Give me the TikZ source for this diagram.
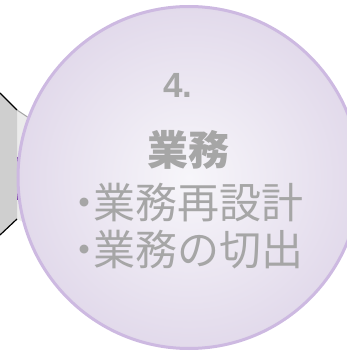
\documentclass[tikz,border=0pt]{standalone}
\usepackage{fontspec}
\setmainfont{Liberation Sans}
\newfontfamily\cjk{Noto Sans CJK JP}
\begin{document}
\begin{tikzpicture}[x=1pt,y=1pt,
  lbl/.style={text=txtgray, inner sep=0pt},
  bigcirc/.style={circle, draw=circborder, line width=3pt, minimum size=342pt, inner sep=0pt, shading=radial, inner color=circin, outer color=circout}]
\definecolor{txtgray}{HTML}{A6A6A6}
\definecolor{circborder}{HTML}{CDB9E1}
\definecolor{circin}{HTML}{F7F6FA}
\definecolor{circout}{HTML}{E2DAEB}
\definecolor{darkpurple}{HTML}{7030A0}
\useasboundingbox (0,0) rectangle (347,354);
% left shape (cut-off arrow behind circle)
\fill[black!8] (17,244) -- (32,234) -- (32,128) -- (17,135) -- cycle;
\draw[gray!70, line width=1pt] (17,244) -- (32,234);
\fill[black!19] (0,261) -- (17,244) -- (17,135) -- (0,119) -- cycle;
\draw[black, line width=1.2pt] (0,261) -- (17,244);
\draw[black, line width=1.2pt] (0,119) -- (17,135);
\draw[darkpurple, line width=1.5pt] (17.3,197) -- (17.3,154);
% circle
\node[bigcirc] (circ) at (189,176.5) {};
% texts
\node[lbl, font=\bfseries\fontsize{35}{35}\selectfont] (num) at (178,269) {4.};
\node[lbl, font=\cjk\bfseries\fontsize{41}{41}\selectfont] (title) at (188,204) {業務};
\node[lbl, font=\cjk\fontsize{42}{42}\selectfont, anchor=west] (item1) at (63,151) {・\kern-12pt 業務再設計};
\node[lbl, font=\cjk\fontsize{42}{42}\selectfont, anchor=west] (item2) at (63,104) {・\kern-12pt 業務の切出};
\end{tikzpicture}
\end{document}
